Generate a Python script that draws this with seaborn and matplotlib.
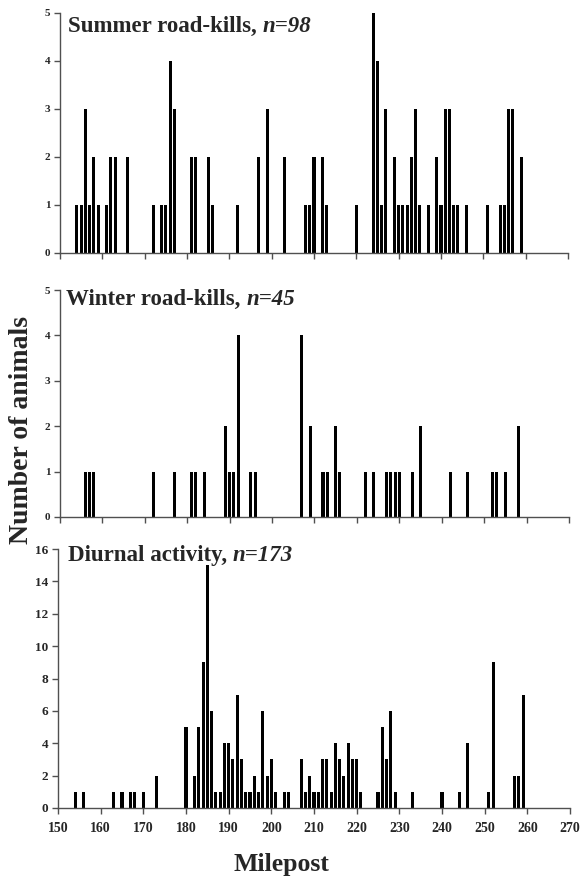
import matplotlib
matplotlib.use("Agg")
import matplotlib.pyplot as plt
import seaborn as sns

# Summer road-kills (n=98)
summer_mp = [154, 155, 156, 157, 158, 159, 161, 162, 163, 166, 172, 174, 175, 176, 177,
             181, 182, 185, 186, 192, 197, 199, 203, 208, 209, 210, 212, 213, 220, 224,
             225, 226, 227, 229, 230, 231, 232, 233, 234, 235, 237, 239, 240, 241, 242,
             243, 244, 246, 251, 254, 255, 256, 257, 259]
summer_n = [1, 1, 3, 1, 2, 1, 1, 2, 2, 2, 1, 1, 1, 4, 3,
            2, 2, 2, 1, 1, 2, 3, 2, 1, 1, 2, 2, 1, 1, 5,
            4, 1, 3, 2, 1, 1, 1, 2, 3, 1, 1, 2, 1, 3, 3,
            1, 1, 1, 1, 1, 1, 3, 3, 2]

# Winter road-kills (n=45)
winter_mp = [156, 157, 158, 172, 177, 181, 182, 184, 189, 190, 191, 192, 195, 196, 207,
             209, 212, 213, 215, 216, 222, 224, 227, 228, 229, 230, 233, 235, 242, 246,
             252, 253, 255, 258]
winter_n = [1, 1, 1, 1, 1, 1, 1, 1, 2, 1, 1, 4, 1, 1, 4,
            2, 1, 1, 2, 1, 1, 1, 1, 1, 1, 1, 1, 2, 1, 1,
            1, 1, 1, 2]

# Diurnal activity (n=173)
diurnal_mp = [154, 156, 163, 165, 167, 168, 170, 173, 180, 182, 183, 184, 185, 186, 187,
              188, 189, 190, 191, 192, 193, 194, 195, 196, 197, 198, 199, 200, 201, 203,
              204, 207, 208, 209, 210, 211, 212, 213, 214, 215, 216, 217, 218, 219, 220,
              221, 225, 226, 227, 228, 229, 233, 240, 244, 246, 251, 252, 257, 258, 259]
diurnal_n = [1, 1, 1, 1, 1, 1, 1, 2, 5, 2, 5, 9, 15, 6, 1,
             1, 4, 4, 3, 7, 3, 1, 1, 2, 1, 6, 2, 3, 1, 1,
             1, 3, 1, 2, 1, 1, 3, 3, 1, 4, 3, 2, 4, 3, 3,
             1, 1, 5, 3, 6, 1, 1, 1, 1, 4, 1, 9, 2, 2, 7]

panels = [
    ("Summer road-kills, ", "n=98", summer_mp, summer_n, 5, 1),
    ("Winter road-kills, ", "n=45", winter_mp, winter_n, 5, 1),
    ("Diurnal activity, ", "n=173", diurnal_mp, diurnal_n, 16, 2),
]

sns.set_theme(style="white")
plt.rcParams["font.family"] = ["Liberation Serif", "DejaVu Serif"]
plt.rcParams["font.weight"] = "bold"

W, H = 582, 882
fig = plt.figure(figsize=(W / 100, H / 100), dpi=100)

# axes boxes in pixels: left, top, right, bottom
boxes = [(60, 13, 568, 253), (60, 290, 569, 517), (58, 549, 570, 808)]
title_pos = [(0.016, 0.921), (0.012, 0.934), (0.019, 0.954)]

for i, (label, ntxt, mp, cnt, ymax, ystep) in enumerate(panels):
    l, t, r, b = boxes[i]
    ax = fig.add_axes([l / W, 1 - b / H, (r - l) / W, (b - t) / H])
    sns.barplot(x=mp, y=cnt, native_scale=True, width=0.72, color="black",
                edgecolor="black", linewidth=0, saturation=1, errorbar=None, ax=ax)
    ax.set_xlim(150, 270)
    ax.set_ylim(0, ymax)
    ax.set_xticks(range(150, 271, 10))
    ax.set_yticks(range(0, ymax + 1, ystep))
    for side in ["top", "right"]:
        ax.spines[side].set_visible(False)
    for side in ["left", "bottom"]:
        ax.spines[side].set_color("#505050")
        ax.spines[side].set_linewidth(1)
    ax.tick_params(axis="both", direction="out", length=4, width=1, color="#505050",
                   bottom=True, left=True, pad=3)
    if i < 2:
        ax.set_xticklabels([])
        ax.tick_params(axis="y", labelsize=8)
    else:
        ax.tick_params(axis="x", labelsize=10, pad=6)
        ax.tick_params(axis="y", labelsize=9.5)
    for lab in ax.get_xticklabels() + ax.get_yticklabels():
        lab.set_fontweight("bold")
    ax.set_xlabel("")
    ax.set_ylabel("")

    tx, ty = title_pos[i]
    t1 = ax.text(tx, ty, label, transform=ax.transAxes, fontsize=16.5,
                 fontweight="bold", ha="left", va="baseline")
    ax.annotate(ntxt, xy=(1, 0), xycoords=t1, fontsize=16.5, fontweight="bold",
                fontstyle="italic", ha="left", va="bottom")

fig.text(22 / W, 1 - 430 / H, "Number of animals", rotation=90, fontsize=20,
         fontweight="bold", ha="center", va="center")
fig.text(281 / W, 1 - 864 / H, "Milepost", fontsize=18.5, fontweight="bold",
         ha="center", va="center")

fig.savefig("out.png", dpi=100)
